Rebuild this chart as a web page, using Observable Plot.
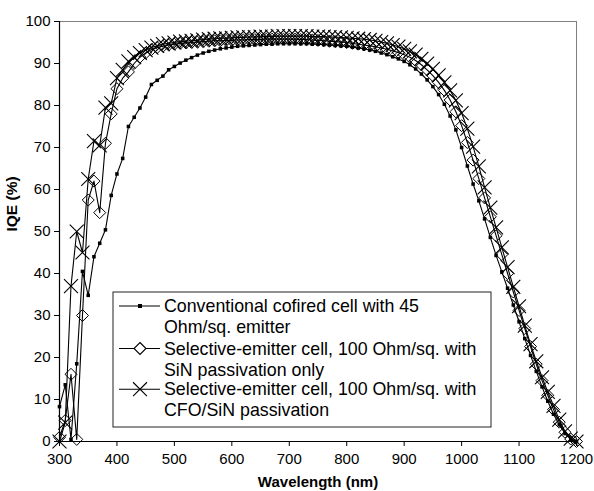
<!DOCTYPE html>
<html>
<head>
<meta charset="utf-8">
<script src="https://cdn.jsdelivr.net/npm/d3@7"></script>
<script src="https://cdn.jsdelivr.net/npm/@observablehq/plot@0.6"></script>
<style>
  html, body { margin: 0; padding: 0; background: #fff; }
  #chart { width: 594px; height: 491px; }
</style>
</head>
<body>
<div id="chart"></div>
<script>
const wavelengths = [300,310,320,330,340,350,360,370,380,390,
  400,410,420,430,440,450,460,470,480,490,
  500,510,520,530,540,550,560,570,580,590,
  600,610,620,630,640,650,660,670,680,690,
  700,710,720,730,740,750,760,770,780,790,
  800,810,820,830,840,850,860,870,880,890,
  900,910,920,930,940,950,960,970,980,990,
  1000,1010,1020,1030,1040,1050,1060,1070,1080,1090,
  1100,1110,1120,1130,1140,1150,1160,1170,1180,1190,
  1200];

const iqeConventional = [8.3,13.5,0.5,18.5,40.5,34.8,44,47.2,50.4,58.6,
  63.7,67.4,75,77.2,79.4,82,85,86,87,88.5,
  89.3,90.1,90.8,91.4,92,92.5,92.9,93.2,93.5,93.7,
  93.9,94.1,94.2,94.3,94.4,94.5,94.6,94.6,94.7,94.7,
  94.7,94.7,94.7,94.7,94.6,94.6,94.5,94.4,94.3,94.2,
  94.1,93.9,93.7,93.5,93.2,92.9,92.5,92.1,91.6,91.1,
  90.5,89.7,88.7,87.5,86.1,84.5,82.6,80.3,77.5,74.2,
  70,65.6,61.3,57.3,53,48.6,44.3,40.4,36.5,32.5,
  28.5,24.5,20.5,16.7,13,9.6,6.5,4,1.9,0.5,
  0];

const iqeSiN = [1,5,16,0.5,30,57.5,62,54.5,71,78,
  84,86.5,88,90,91.5,92.5,93.3,93.8,94.1,94.4,
  94.6,94.8,94.9,95,95.1,95.2,95.3,95.4,95.4,95.5,
  95.5,95.6,95.6,95.7,95.7,95.7,95.8,95.8,95.8,95.8,
  95.8,95.8,95.7,95.7,95.6,95.5,95.4,95.3,95.2,95.1,
  95,94.8,94.6,94.4,94.2,94,93.7,93.4,93,92.6,
  92.1,91.5,90.7,89.7,88.5,87.1,85.5,83.6,81.3,78.5,
  75.2,71.2,67,62.6,58,53.5,49,44.5,40,35.6,
  31.2,26.9,22.6,18.4,14.5,11,7.6,4.6,2.2,0.6,
  0];

const iqeCFO = [0,4.5,37,50,45,62.5,71.5,70.5,79.5,80.5,
  86.5,88.5,90.5,91.5,92.5,93.2,93.8,94.2,94.6,94.8,
  95,95.2,95.3,95.4,95.5,95.7,95.8,95.9,96,96,
  96.1,96.2,96.2,96.3,96.3,96.4,96.4,96.4,96.5,96.5,
  96.5,96.5,96.5,96.5,96.4,96.4,96.4,96.3,96.3,96.2,
  96.1,96,95.9,95.8,95.6,95.4,95.1,94.8,94.4,94,
  93.5,92.9,92.1,91.1,90,88.7,87.2,85.5,83.6,81.2,
  78.2,74.5,70.2,65.5,60.5,55.7,51,46.2,41.5,36.8,
  32.2,27.6,23.2,19.1,15.3,11.8,8.5,5.2,2.4,0.7,
  0];

const seriesNames = [
  ["Conventional cofired cell with 45", "Ohm/sq. emitter"],
  ["Selective-emitter cell, 100 Ohm/sq. with", "SiN passivation only"],
  ["Selective-emitter cell, 100 Ohm/sq. with", "CFO/SiN passivation"]
];
const xTicks = [300,400,500,600,700,800,900,1000,1100,1200];
const yTicks = [0,10,20,30,40,50,60,70,80,90,100];
const xTitle = "Wavelength (nm)";
const yTitle = "IQE (%)";

const toRows = arr => wavelengths.map((w, i) => ({w, v: arr[i]}));
const d1 = toRows(iqeConventional);
const d2 = toRows(iqeSiN);
const d3r = toRows(iqeCFO);

const font = "'Liberation Sans', Arial, sans-serif";

const chart = Plot.plot({
  width: 594,
  height: 491,
  marginLeft: 59,
  marginRight: 18,
  marginTop: 21,
  marginBottom: 50,
  style: {fontFamily: font, fontSize: "15px", background: "#fff", color: "#000", overflow: "visible"},
  x: {domain: [300, 1200], ticks: xTicks, tickSize: 5, tickPadding: 7, label: null, tickFormat: d => String(d)},
  y: {domain: [0, 100], ticks: yTicks, tickSize: 5, tickPadding: 4, label: null},
  marks: [
    Plot.frame({stroke: "#808080", strokeWidth: 1}),
    Plot.line(d1, {x: "w", y: "v", stroke: "#000", strokeWidth: 1.1}),
    Plot.dot(d1, {x: "w", y: "v", symbol: "square", r: 2, fill: "#000", stroke: "none"}),
    Plot.line(d2, {x: "w", y: "v", stroke: "#000", strokeWidth: 1.1}),
    Plot.dot(d2, {x: "w", y: "v", symbol: "diamond2", r: 5.4, fill: "none", stroke: "#000", strokeWidth: 1}),
    Plot.line(d3r, {x: "w", y: "v", stroke: "#000", strokeWidth: 1.1}),
    Plot.dot(d3r, {x: "w", y: "v", symbol: "times", r: 6.4, fill: "none", stroke: "#000", strokeWidth: 1.1}),
    Plot.ruleY([0], {stroke: "#000", strokeWidth: 1.2}),
    Plot.ruleX([300], {stroke: "#000", strokeWidth: 1.2}),
    Plot.axisX({ticks: xTicks, tickSize: 5, tickPadding: 7, label: null, tickFormat: d => String(d), fontSize: 15}),
    Plot.axisY({ticks: yTicks, tickSize: 5, tickPadding: 4, label: null, fontSize: 15}),
    Plot.text([xTitle], {frameAnchor: "bottom", dy: 41, text: d => d, fontWeight: "bold", fontSize: 15, lineAnchor: "middle"}),
    Plot.text([yTitle], {frameAnchor: "left", dx: -47, rotate: -90, text: d => d, fontWeight: "bold", fontSize: 15.5, lineAnchor: "middle"})
  ]
});

document.getElementById("chart").appendChild(chart);

// Legend
const svg = d3.select(chart);
const lg = svg.append("g").attr("font-family", font).attr("font-size", 17.8).attr("text-anchor", "start");
const box = {x: 113, y: 292, w: 378, h: 135};
lg.append("rect").attr("x", box.x).attr("y", box.y).attr("width", box.w).attr("height", box.h)
  .attr("fill", "#fff").attr("stroke", "#222").attr("stroke-width", 1);
const rowY = [306, 348.5, 389.2];
const lineH = 20.8;
const symbols = [
  {type: d3.symbolSquare, size: 16, fill: "#000", stroke: "none"},
  {type: d3.symbolDiamond2, size: 92, fill: "#fff", stroke: "#000"},
  {type: d3.symbolTimes, size: 128, fill: "none", stroke: "#000"}
];
seriesNames.forEach((lines, i) => {
  const y = rowY[i];
  lg.append("line").attr("x1", 119).attr("x2", 160).attr("y1", y).attr("y2", y)
    .attr("stroke", "#000").attr("stroke-width", 1.1);
  lg.append("path").attr("transform", `translate(140,${y})`)
    .attr("d", d3.symbol(symbols[i].type, symbols[i].size)())
    .attr("fill", symbols[i].fill).attr("stroke", symbols[i].stroke).attr("stroke-width", 1.1);
  lines.forEach((t, j) => {
    lg.append("text").attr("x", 164).attr("y", y + j * lineH).attr("dy", "0.35em")
      .attr("text-anchor", "start").text(t);
  });
});
</script>
</body>
</html>
